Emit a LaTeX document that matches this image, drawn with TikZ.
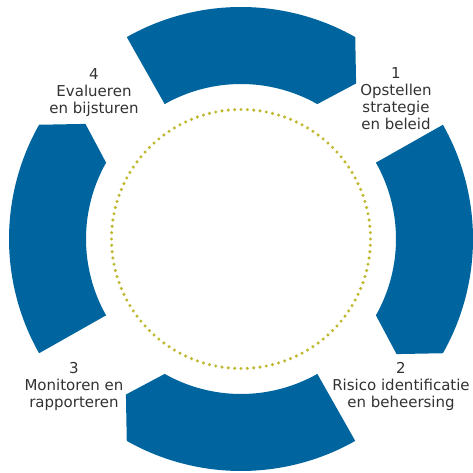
\documentclass[tikz,border=0pt]{standalone}
\usepackage{fontspec}
\setmainfont{DejaVu Sans}
\definecolor{ringblue}{RGB}{0,101,158}
\definecolor{dotolive}{RGB}{192,184,50}
\definecolor{textgray}{RGB}{50,50,50}

\begin{document}
\begin{tikzpicture}
    [
        x=1pt,y=1pt,
        segment/.style={fill=ringblue},
        steplabel/.style={align=center,anchor=north,inner sep=0pt,
            text=textgray,font=\fontsize{15}{17}\selectfont},
    ]
    \useasboundingbox (0,0) rectangle (472,473);
    % The four segments of the ring
    \foreach \a in {0,90,180,270}
    \fill[segment,shift={(241,234)}]
    ({\a+29.5}:232) arc[start angle=\a+29.5,end angle=\a-29.5,radius=232]
    -- ({\a-36.5}:193.5) -- ({\a-29.5}:155)
    arc[start angle=\a-29.5,end angle=\a+29.5,radius=155] -- cycle;
    % The dotted circle
    \foreach \i in {1,...,128}
    \fill[dotolive] ({241+129.5*cos(\i*2.8125)},{234+129.5*sin(\i*2.8125)})
    circle[radius=1.7];
    % The labels
    \node[steplabel] (stap1) at (396,406) {1\\Opstellen\\strategie\\en beleid};
    \node[steplabel] (stap2) at (401,111) {2\\Risico identificatie\\en beheersing};
    \node[steplabel] (stap3) at (74,111) {3\\Monitoren en\\rapporteren};
    \node[steplabel] (stap4) at (94,405) {4\\Evalueren\\en bijsturen};
\end{tikzpicture}
\end{document}
